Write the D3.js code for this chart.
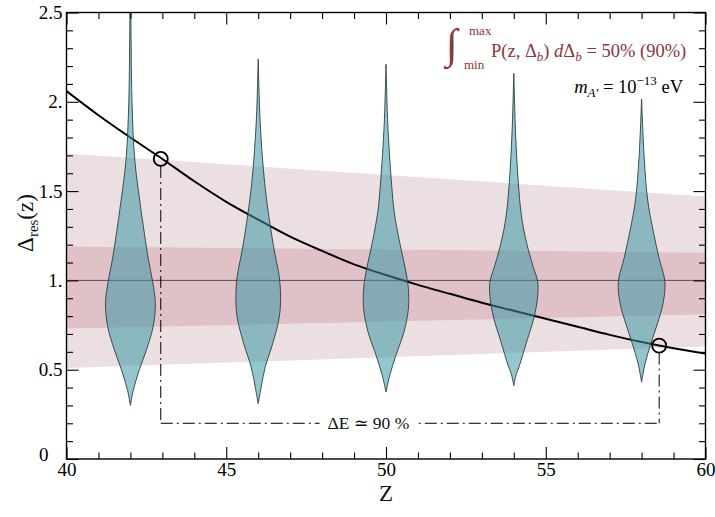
<!DOCTYPE html>
<html><head><meta charset="utf-8">
<script src="https://cdn.jsdelivr.net/npm/d3@7"></script>
<style>
html,body{margin:0;padding:0;background:#fff;}
svg text{font-family:"Liberation Serif","Tinos","Times New Roman","DejaVu Serif","Noto Serif",serif !important;}
</style></head>
<body>
<svg id="chart" width="715" height="517"></svg>
<script>
// ---------- data ----------
const xMajor = [40, 45, 50, 55, 60];
const xLabels = ["40", "45", "50", "55", "60"];
const yMajor = [0, 0.5, 1, 1.5, 2, 2.5];
const yLabels = ["0", "0.5", "1.", "1.5", "2.", "2.5"];

// resolution curve Δres(z)
const curveZ = [40,41,42,43,44,45,46,47,48,49,50,51,52,53,54,55,56,57,58,59,60];
const curveD = [2.06,1.925,1.80,1.68,1.555,1.44,1.34,1.245,1.165,1.09,1.03,0.975,0.925,0.875,0.83,0.785,0.74,0.695,0.655,0.62,0.59];

// shaded bands (linear in z)
const bandZ = [40, 60];
const outerLow = [0.51, 0.63];
const outerHigh = [1.71, 1.47];
const innerLow = [0.73, 0.81];
const innerHigh = [1.19, 1.155];

// violins: [Δ, half-width in z units]
const violinZ = [42, 46, 50, 54, 58];
const violin42 = [[0.30,0],[0.385,0.09],[0.50,0.28],[0.61,0.50],[0.74,0.71],[0.87,0.78],[0.99,0.70],[1.11,0.57],[1.26,0.44],[1.45,0.29],[1.67,0.14],[2.0,0.05],[2.55,0.015]];
const violin46 = [[0.31,0],[0.40,0.09],[0.515,0.22],[0.65,0.46],[0.795,0.66],[0.91,0.70],[1.02,0.66],[1.17,0.50],[1.35,0.34],[1.50,0.23],[1.67,0.14],[1.91,0.055],[2.24,0]];
const violin50 = [[0.375,0],[0.47,0.12],[0.58,0.31],[0.71,0.56],[0.84,0.70],[0.955,0.70],[1.07,0.60],[1.21,0.43],[1.38,0.26],[1.55,0.17],[1.88,0.055],[2.21,0]];
const violin54 = [[0.41,0],[0.47,0.07],[0.525,0.18],[0.655,0.40],[0.79,0.63],[0.90,0.74],[0.99,0.75],[1.08,0.60],[1.21,0.40],[1.36,0.24],[1.55,0.14],[1.83,0.055],[2.16,0]];
const violin58 = [[0.43,0],[0.535,0.11],[0.646,0.29],[0.76,0.50],[0.87,0.67],[0.99,0.73],[1.13,0.54],[1.28,0.36],[1.45,0.19],[1.69,0.08],[2.015,0]];
const violins = [violin42, violin46, violin50, violin54, violin58];

// marked points and ΔE bracket
const markZ = [42.95, 58.55];
const markD = [1.68, 0.635];
const bracketD = 0.2;
const bracketLabel = "ΔE ≃ 90 %";

// ---------- drawing ----------
const FONT = "'Liberation Serif','Tinos','Times New Roman','DejaVu Serif','Noto Serif',serif";
const svg = d3.select("#chart");
const L = 66.5, R = 705.5, T = 12.5, B = 459;
const x = d3.scaleLinear().domain([40, 60]).range([L, R]);
const y = d3.scaleLinear().domain([0, 2.5]).range([B, T]);

svg.append("defs").append("clipPath").attr("id", "plot")
  .append("rect").attr("x", L).attr("y", T).attr("width", R - L).attr("height", B - T);
const g = svg.append("g").attr("clip-path", "url(#plot)");

const bandArea = d3.area().x(d => x(d.z)).y0(d => y(d.lo)).y1(d => y(d.hi));
const outerData = bandZ.map((z, i) => ({z, lo: outerLow[i], hi: outerHigh[i]}));
const innerData = bandZ.map((z, i) => ({z, lo: innerLow[i], hi: innerHigh[i]}));
g.append("path").attr("d", bandArea(outerData)).attr("fill", "#ecdfe1");
g.append("path").attr("d", bandArea(innerData)).attr("fill", "#dfc1c7");

// line at 1
g.append("line").attr("x1", L).attr("x2", R).attr("y1", y(1)).attr("y2", y(1))
  .attr("stroke", "#333").attr("stroke-width", 0.8);

// curve
const line = d3.line().x((d, i) => x(curveZ[i])).y(d => y(d)).curve(d3.curveCatmullRom);
g.append("path").attr("d", line(curveD)).attr("fill", "none").attr("stroke", "#000").attr("stroke-width", 2);

// violins
violins.forEach((v, k) => {
  const zc = violinZ[k];
  const area = d3.area()
    .y(d => y(d[0]))
    .x0(d => x(zc - d[1]))
    .x1(d => x(zc + d[1]))
    .curve(d3.curveCatmullRom.alpha(0.5));
  g.append("path").attr("d", area(v))
    .attr("fill", "rgb(60,152,164)").attr("fill-opacity", 0.55)
    .attr("stroke", "#2c3e40").attr("stroke-width", 0.9);
});

// dash-dot bracket
const dash = "12,4,2,4";
const r = 7;
g.append("line").attr("x1", x(markZ[0])).attr("x2", x(markZ[0]))
  .attr("y1", y(markD[0]) + r).attr("y2", y(bracketD))
  .attr("stroke", "#000").attr("stroke-width", 1).attr("stroke-dasharray", dash);
g.append("line").attr("x1", x(markZ[1])).attr("x2", x(markZ[1]))
  .attr("y1", y(markD[1]) + r).attr("y2", y(bracketD))
  .attr("stroke", "#000").attr("stroke-width", 1).attr("stroke-dasharray", dash);
g.append("line").attr("x1", x(markZ[0])).attr("x2", x(markZ[1]))
  .attr("y1", y(bracketD)).attr("y2", y(bracketD))
  .attr("stroke", "#000").attr("stroke-width", 1).attr("stroke-dasharray", dash);
const lbl = g.append("text").attr("x", x(49.45)).attr("y", y(bracketD) + 6)
  .attr("text-anchor", "middle").attr("font-size", 17.5).attr("font-family", FONT).attr("fill", "#111").text(bracketLabel);
const bb = lbl.node().getBBox();
g.insert("rect", "text").attr("x", bb.x - 8).attr("y", y(bracketD) - 3).attr("width", bb.width + 14).attr("height", 6).attr("fill", "#fff");
lbl.raise();

// circles
markZ.forEach((z, i) => {
  g.append("circle").attr("cx", x(z)).attr("cy", y(markD[i])).attr("r", r)
    .attr("fill", "none").attr("stroke", "#000").attr("stroke-width", 1.8);
});

// ---------- axes ----------
const xMinor = d3.range(40, 61, 1).filter(v => v % 5 !== 0);
const yMinor = d3.range(0, 26).map(v => v / 10).filter((v, i) => i % 5 !== 0);
const axG = svg.append("g");
function addAxis(axisFn, scale, pos, vals, size, labels) {
  const a = axisFn(scale).tickValues(vals).tickSize(-size).tickSizeOuter(0).tickPadding(4)
    .tickFormat(labels ? (d, i) => labels[i] : () => "");
  const sel = axG.append("g").attr("transform", pos).call(a);
  sel.attr("font-family", FONT);
  sel.select(".domain").remove();
  sel.selectAll(".tick line").attr("stroke", "#000").attr("stroke-width", 1.1);
  sel.selectAll("text").attr("font-family", FONT).attr("font-size", 19).attr("fill", "#000");
  return sel;
}
addAxis(d3.axisBottom, x, `translate(0,${B})`, xMajor, 12, xLabels);
addAxis(d3.axisBottom, x, `translate(0,${B})`, xMinor, 6.5, null);
addAxis(d3.axisTop, x, `translate(0,${T})`, xMajor, 12, null);
addAxis(d3.axisTop, x, `translate(0,${T})`, xMinor, 6.5, null);
const yl = addAxis(d3.axisLeft, y, `translate(${L},0)`, yMajor, 12, yLabels);
addAxis(d3.axisLeft, y, `translate(${L},0)`, yMinor, 6.5, null);
addAxis(d3.axisRight, y, `translate(${R},0)`, yMajor, 12, null);
addAxis(d3.axisRight, y, `translate(${R},0)`, yMinor, 6.5, null);
yl.selectAll(".tick text").filter(d => d === 0).attr("dx", -14).attr("dy", "0.1em");

svg.append("rect").attr("x", L).attr("y", T).attr("width", R - L).attr("height", B - T)
  .attr("fill", "none").attr("stroke", "#000").attr("stroke-width", 1.4);

// axis titles
const yt = svg.append("text").attr("transform", `translate(33,223) rotate(-90)`)
  .attr("text-anchor", "middle").attr("font-size", 23).attr("font-family", FONT).attr("fill", "#111");
yt.append("tspan").text("Δ");
yt.append("tspan").attr("font-size", 15).attr("dy", 5).text("res");
yt.append("tspan").attr("dy", -5).text("(z)");
svg.append("text").attr("x", 386).attr("y", 501).attr("text-anchor", "middle")
  .attr("font-size", 23).attr("font-family", FONT).attr("fill", "#111").text("Z");

// annotations
const red = "#8b3540";
svg.append("text").attr("x", 446).attr("y", 58).attr("font-size", 42).attr("font-family", FONT).attr("fill", red).text("∫");
svg.append("text").attr("x", 469).attr("y", 35).attr("font-size", 13).attr("font-family", FONT).attr("fill", red).text("max");
svg.append("text").attr("x", 464).attr("y", 69).attr("font-size", 13).attr("font-family", FONT).attr("fill", red).text("min");
const t1 = svg.append("text").attr("x", 491).attr("y", 57).attr("font-size", 18.5).attr("font-family", FONT).attr("fill", red);
t1.append("tspan").text("P(z, Δ");
t1.append("tspan").attr("font-style", "italic").attr("font-size", 13).attr("dy", 4).text("b");
t1.append("tspan").attr("dy", -4).text(") ");
t1.append("tspan").attr("font-style", "italic").text("d");
t1.append("tspan").text("Δ");
t1.append("tspan").attr("font-style", "italic").attr("font-size", 13).attr("dy", 4).text("b");
t1.append("tspan").attr("dy", -4).text(" = 50% (90%)");

const t2 = svg.append("text").attr("x", 683).attr("y", 93).attr("font-size", 18.5).attr("font-family", FONT).attr("fill", "#000").attr("text-anchor", "end");
t2.append("tspan").attr("font-style", "italic").text("m");
t2.append("tspan").attr("font-style", "italic").attr("font-size", 13).attr("dy", 4).text("A'");
t2.append("tspan").attr("dy", -4).text(" = 10");
t2.append("tspan").attr("font-size", 13).attr("dy", -8).text("−13");
t2.append("tspan").attr("dy", 8).text(" eV");
</script>
</body></html>
